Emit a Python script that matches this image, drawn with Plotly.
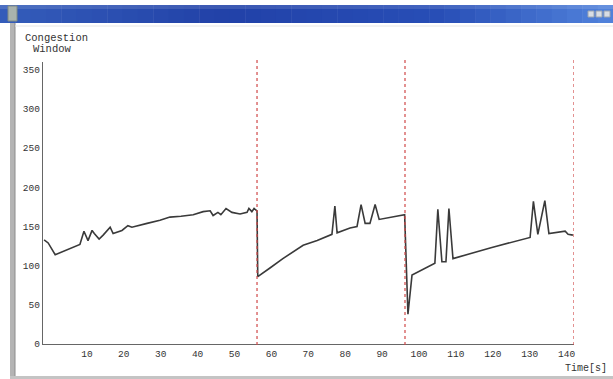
import plotly.graph_objects as go

# ---- data ----
time_s = [-1.6, -0.5, 1.4, 4.0, 8.1, 9.2, 10.3, 11.4, 12.0, 13.3, 14.4, 16.3, 17.1,
          19.5, 21.1, 22.2, 24.4, 26.3, 29.8, 32.5, 35.5, 38.8, 41.5, 43.4, 44.2,
          45.5, 46.3, 47.7, 49.3, 51.5, 53.4, 53.9, 54.7, 55.3, 56.1, 56.3, 59.6,
          63.1, 68.6, 72.4, 76.4, 77.2, 77.8, 81.3, 83.2, 84.3, 85.4, 86.7, 88.1,
          89.2, 96.1, 97.0, 98.1, 104.3, 105.1, 106.2, 107.3, 108.1, 109.2, 119.5,
          130.1, 131.0, 132.2, 134.1, 135.2, 139.6, 140.4, 141.7]
cwnd = [133, 129, 114, 119, 127, 144, 132, 145, 141, 134, 139, 149, 141,
        145, 151, 149, 152, 154, 158, 162, 163, 165, 169, 170, 164,
        168, 165, 173, 168, 166, 168, 173, 169, 173, 170, 86, 97,
        109, 126, 132, 140, 176, 142, 148, 150, 178, 154, 154, 178,
        159, 165, 38, 88, 103, 172, 105, 105, 173, 109, 123,
        136, 182, 140, 183, 141, 144, 140, 139]
loss_events = [56.1, 96.2, 142.0]
x_ticks = [10, 20, 30, 40, 50, 60, 70, 80, 90, 100, 110, 120, 130, 140]
y_ticks = [0, 50, 100, 150, 200, 250, 300, 350]

W, H = 613, 379


def px(x):
    return x / W


def py(y):
    return 1 - y / H


fig = go.Figure()
fig.add_trace(go.Scatter(x=time_s, y=cwnd, mode="lines",
                         line=dict(color="#3a3a3a", width=1.6),
                         hoverinfo="skip", showlegend=False))

shapes = []
# loss-event markers (red dotted verticals)
for t in loss_events:
    shapes.append(dict(type="line", xref="x", yref="paper", x0=t, x1=t,
                       y0=py(345), y1=py(57),
                       line=dict(color="#d04848", width=1.2, dash="dot")))

# ---- window chrome ----
stops = [(0.0, (52, 92, 186)), (0.35, (34, 66, 168)), (0.7, (40, 78, 182)), (1.0, (84, 134, 222))]


def lerp_col(f):
    for i in range(len(stops) - 1):
        a, ca = stops[i]
        b, cb = stops[i + 1]
        if a <= f <= b:
            k = (f - a) / (b - a)
            return "rgb(%d,%d,%d)" % tuple(int(ca[j] + (cb[j] - ca[j]) * k) for j in range(3))
    return "rgb(84,134,222)"


n = 40
for i in range(n):
    shapes.append(dict(type="rect", xref="paper", yref="paper",
                       x0=px(W * i / n), x1=px(W * (i + 1) / n + 0.5),
                       y0=py(23), y1=py(5), line=dict(width=0),
                       fillcolor=lerp_col(i / n), layer="above"))
shapes.append(dict(type="rect", xref="paper", yref="paper", x0=0, x1=1,
                   y0=py(9), y1=py(5), line=dict(width=0),
                   fillcolor="rgba(255,255,255,0.12)", layer="above"))
shapes.append(dict(type="rect", xref="paper", yref="paper", x0=px(8), x1=px(17),
                   y0=py(21), y1=py(6), line=dict(color="#7f8a84", width=1),
                   fillcolor="#a9b3ad", layer="above"))
for bx in [588, 596, 604]:
    shapes.append(dict(type="rect", xref="paper", yref="paper", x0=px(bx), x1=px(bx + 6),
                       y0=py(17), y1=py(11), line=dict(color="#9aa4b0", width=1),
                       fillcolor="#d8dde4", layer="above"))
shapes.append(dict(type="rect", xref="paper", yref="paper", x0=px(10), x1=px(15),
                   y0=0, y1=py(23), line=dict(width=0), fillcolor="#b4b4b4", layer="above"))
shapes.append(dict(type="line", xref="paper", yref="paper", x0=px(15), x1=px(15),
                   y0=0, y1=py(23), line=dict(color="#8c8c8c", width=1), layer="above"))
shapes.append(dict(type="rect", xref="paper", yref="paper", x0=px(10), x1=1,
                   y0=0, y1=py(376), line=dict(width=0), fillcolor="#c4c4c4", layer="above"))
shapes.append(dict(type="line", xref="paper", yref="paper", x0=px(15), x1=1,
                   y0=py(26), y1=py(26), line=dict(color="#e6e6e6", width=1), layer="above"))

annotations = [
    dict(text="Congestion", xref="paper", yref="paper", x=px(23), y=py(38),
         xanchor="left", yanchor="middle", showarrow=False,
         font=dict(family="Liberation Mono", size=10.5, color="#333")),
    dict(text="Window", xref="paper", yref="paper", x=px(31), y=py(49),
         xanchor="left", yanchor="middle", showarrow=False,
         font=dict(family="Liberation Mono", size=10.5, color="#333")),
    dict(text="Time[s]", xref="paper", yref="paper", x=px(609), y=py(368),
         xanchor="right", yanchor="middle", showarrow=False,
         font=dict(family="Liberation Mono", size=10, color="#333")),
]

fig.update_layout(
    width=W, height=H, template="none",
    margin=dict(l=0, r=0, t=0, b=0),
    paper_bgcolor="white", plot_bgcolor="white",
    shapes=shapes, annotations=annotations, showlegend=False,
    xaxis=dict(domain=[px(43), px(574)], range=[-1.9, 142.0],
               tickvals=x_ticks, ticktext=[str(v) for v in x_ticks],
               showgrid=False, zeroline=False, showline=True,
               linecolor="#666", linewidth=1.2, ticks="", automargin=False,
               tickfont=dict(family="Liberation Mono", size=9.5, color="#333")),
    yaxis=dict(domain=[py(344), py(62)], range=[0, 360],
               tickvals=y_ticks, ticktext=[str(v) for v in y_ticks],
               showgrid=False, zeroline=False, showline=True,
               linecolor="#666", linewidth=1.2, ticks="", automargin=False,
               tickfont=dict(family="Liberation Mono", size=9.5, color="#333")),
)

fig.write_html("out.html", config={"displayModeBar": False, "staticPlot": True},
               post_script="document.body.style.margin='0';document.body.style.overflow='hidden';")
